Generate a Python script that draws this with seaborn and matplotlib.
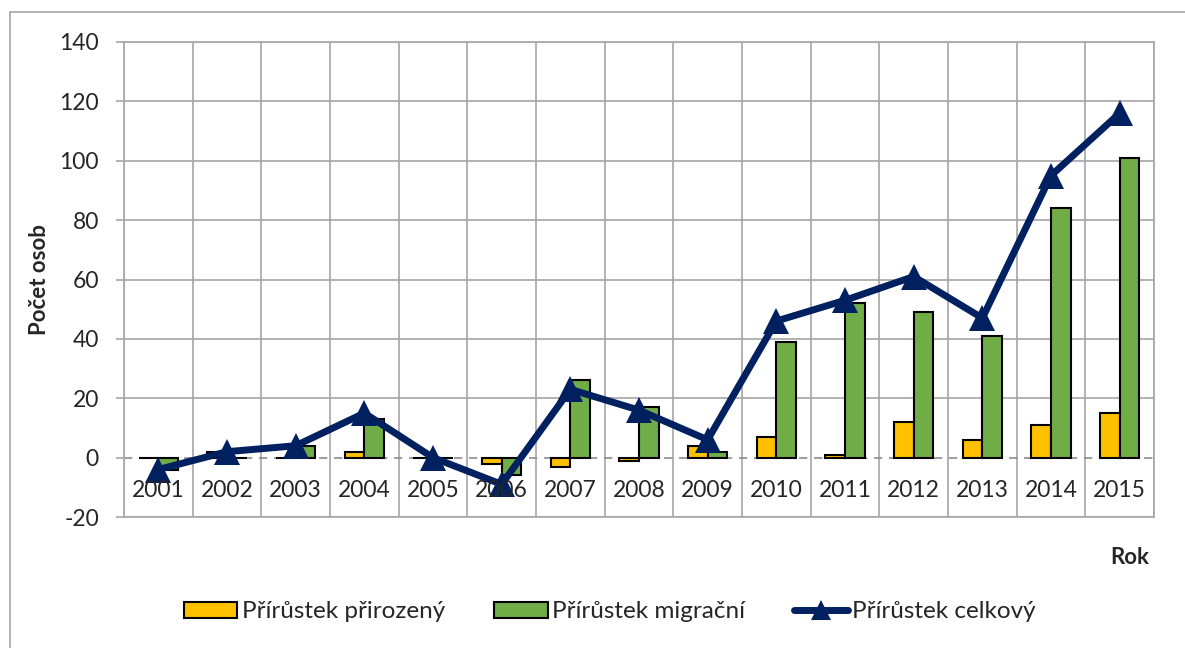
import matplotlib
matplotlib.use("Agg")
import matplotlib.pyplot as plt
from matplotlib.lines import Line2D
from matplotlib.patches import Patch
import numpy as np
import pandas as pd
import seaborn as sns

years = ["2001", "2002", "2003", "2004", "2005", "2006", "2007", "2008",
         "2009", "2010", "2011", "2012", "2013", "2014", "2015"]
natural = [0, 2, 0, 2, 0, -2, -3, -1, 4, 7, 1, 12, 6, 11, 15]
migration = [-4, 0, 4, 13, 0, -6, 26, 17, 2, 39, 52, 49, 41, 84, 101]
total = [-4, 2, 4, 15, 0, -9, 23, 16, 6, 46, 53, 61, 47, 95, 116]
y_ticks = [-20, 0, 20, 40, 60, 80, 100, 120, 140]

lab_nat = "Přírůstek přirozený"
lab_mig = "Přírůstek migrační"
lab_tot = "Přírůstek celkový"

df = pd.DataFrame({
    "rok": years * 2,
    "hodnota": natural + migration,
    "typ": [lab_nat] * len(years) + [lab_mig] * len(years),
})

sns.set_style("white")
plt.rcParams["font.family"] = ["Lato", "DejaVu Sans"]

fig = plt.figure(figsize=(11.85, 6.48), dpi=100)
ax = fig.add_axes([124 / 1185, 1 - 517 / 648, (1154 - 124) / 1185, (517 - 42) / 648])

grid_col = "#A6A6A6"
yellow, green, navy = "#FFC000", "#70AD47", "#002060"

sns.barplot(data=df, x="rok", y="hodnota", hue="typ", order=years,
            palette=[yellow, green], saturation=1, width=0.57, gap=0,
            edgecolor="black", linewidth=1.5, ax=ax, legend=False, zorder=3)

xs = np.arange(len(years))
sns.lineplot(x=xs, y=total, ax=ax, color=navy, linewidth=5,
             marker="^", markersize=19, markeredgewidth=0, zorder=5)

ax.set_xlim(-0.5, len(years) - 0.5)
ax.set_ylim(y_ticks[0], y_ticks[-1])
ax.set_yticks(y_ticks)
ax.set_yticklabels([str(v) for v in y_ticks], fontsize=16.5)
ax.tick_params(axis="y", length=6, width=1.2, color=grid_col, pad=12, left=True)

# vertical grid at category boundaries
ax.set_xticks(xs)
ax.set_xticks(np.arange(-0.5, len(years)), minor=True)
ax.tick_params(axis="x", which="both", length=0, labelbottom=False)
ax.grid(True, which="minor", axis="x", color=grid_col, linewidth=1.2, zorder=0)
ax.grid(True, which="major", axis="y", color=grid_col, linewidth=1.2, zorder=0)
ax.set_axisbelow(True)
for v, gl in zip(y_ticks, ax.get_ygridlines()):
    if v == 0:
        gl.set_linestyle((0, (5, 4)))
        gl.set_color("#8C8C8C")

for spine in ax.spines.values():
    spine.set_color(grid_col)
    spine.set_linewidth(1.2)

for x, lab in zip(xs, years):
    ax.text(x, -11, lab, ha="center", va="center", fontsize=16.5, zorder=6)

ax.set_xlabel("")
ax.set_ylabel("Počet osob", fontsize=16, fontweight="bold")
ax.yaxis.set_label_coords(-0.072, 0.5)
fig.text(1149 / 1185, 1 - 557 / 648, "Rok", ha="right", va="center",
         fontsize=16, fontweight="bold")

handles = [
    Patch(facecolor=yellow, edgecolor="black", linewidth=1.5, label=lab_nat),
    Patch(facecolor=green, edgecolor="black", linewidth=1.5, label=lab_mig),
    Line2D([0], [0], color=navy, linewidth=5, marker="^", markersize=15,
           markeredgewidth=0, label=lab_tot),
]
fig.legend(handles=handles, loc="center", bbox_to_anchor=(610 / 1185, 1 - 612 / 648),
           ncol=3, frameon=False, fontsize=17.5, handlelength=2.2,
           handleheight=0.6, handletextpad=0.2, columnspacing=2.0)

# outer chart border
fig.add_artist(Line2D([10 / 1185, 10 / 1185], [0, 1 - 12 / 648],
                      transform=fig.transFigure, color=grid_col, linewidth=1.2))
fig.add_artist(Line2D([10 / 1185, 1], [1 - 12 / 648, 1 - 12 / 648],
                      transform=fig.transFigure, color=grid_col, linewidth=1.2))

fig.savefig("out.png", dpi=100)
plt.close(fig)
